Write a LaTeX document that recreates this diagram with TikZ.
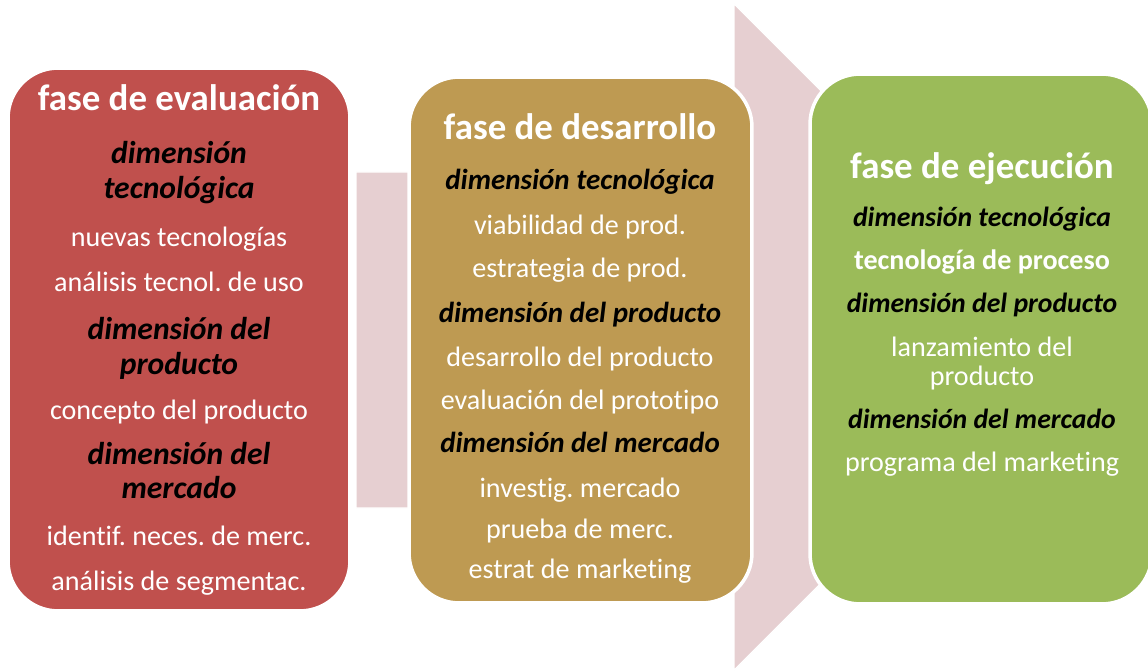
\documentclass[tikz,border=0pt]{standalone}
\usepackage{fontspec}
\setmainfont[Ligatures=NoCommon]{Carlito}
\frenchspacing
\definecolor{evalred}{HTML}{C0504D}
\definecolor{desgold}{HTML}{BE9A52}
\definecolor{ejegreen}{HTML}{9BBB59}
\definecolor{flowpink}{HTML}{E6CFD1}
\newcommand\ph[1]{{\fontsize{21}{21}\selectfont\bfseries #1}}
\newcommand\dm[2][16.5]{{\fontsize{#1}{#1}\selectfont\bfseries\itshape\color{black}#2}}
\tikzset{
  box/.style={draw=white, line width=2pt, rounded corners=1cm, minimum width=6.84cm},
  ln/.style={text=white, inner sep=0pt, font=\fontsize{16}{16}\selectfont,
    text height=12pt, text depth=2pt},
}
\begin{document}
\begin{tikzpicture}[x=0.02cm,y=-0.02cm]
\clip (0,0) rectangle (1148,671);
% arrow behind the three phases
\draw[fill=flowpink, draw=white, line width=0.6pt] (356,172) -- (734,172) -- (734,4) -- (1067,337)
  -- (734,670) -- (734,508) -- (356,508) -- cycle;
% phases
\node (eval) [box, fill=evalred, minimum height=10.86cm] at (179,339.5) {};
\node (desa) [box, fill=desgold, minimum width=6.86cm, minimum height=10.52cm] at (580.5,340) {};
\node (ejec) [box, fill=ejegreen, minimum height=10.6cm] at (981,339) {};
% texts
\foreach \y/\t [count=\i] in {102/\ph{fase de evaluación}, 155/\dm[18]{dimensión},
  190/\dm[18]{tecnológica}, 238/nuevas tecnologías, 283/análisis tecnol. de uso,
  331/\dm[18]{dimensión del}, 366/\dm[18]{producto}, 411/concepto del producto,
  456/\dm[18]{dimensión del}, 490/\dm[18]{mercado}, 537/identif. neces. de merc.,
  582/análisis de segmentac.}
  \node[ln] (ev\i) at (179,\y) {\t};
\foreach \y/\t [count=\i] in {131/\ph{fase de desarrollo}, 181/\dm{dimensión tecnológica},
  226/viabilidad de prod., 269/estrategia de prod., 314/\dm{dimensión del producto},
  358/desarrollo del producto, 401/evaluación del prototipo, 444/\dm{dimensión del mercado},
  489/investig. mercado, 530/prueba de merc., 570/estrat de marketing}
  \node[ln] (de\i) at (580,\y) {\t};
\foreach \y/\t [count=\i] in {170/\ph{fase de ejecución}, 218/\dm[15.8]{dimensión tecnológica},
  261/\textbf{tecnología de proceso}, 304/\dm[15.8]{dimensión del producto},
  348/lanzamiento del, 377/producto, 420/\dm[15.8]{dimensión del mercado},
  463/programa del marketing}
  \node[ln] (ej\i) at (982,\y) {\t};
\end{tikzpicture}
\end{document}
